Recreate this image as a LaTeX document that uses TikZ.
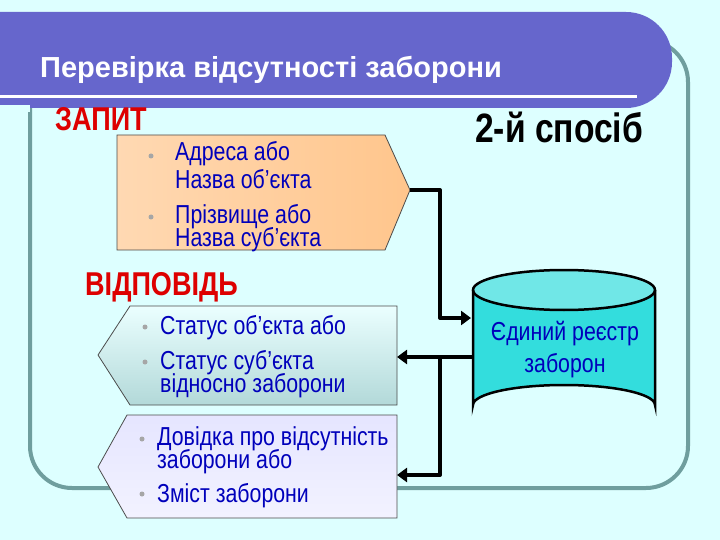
\documentclass[tikz,border=0pt]{standalone}
\usepackage{fontspec}
\setmainfont{Liberation Sans}
\newfontfamily\narrowf{Liberation Sans}[FakeStretch=0.82]
\usetikzlibrary{shapes.geometric,arrows.meta,positioning}
\definecolor{bg}{HTML}{DDFFFF}
\definecolor{frame}{HTML}{6F9E9E}
\definecolor{banner}{HTML}{6666CC}
\definecolor{txt}{HTML}{0000BB}
\definecolor{redt}{HTML}{DD0000}
\definecolor{cyl}{HTML}{33DDDD}
\begin{document}
\begin{tikzpicture}[x=1pt,y=-1pt,
  item/.style={anchor=base west,text=txt,font=\narrowf\fontsize{26}{26}\selectfont,inner sep=0},
  bul/.style={circle,fill=gray!70,inner sep=0,minimum size=5pt},
  conn/.style={line width=4pt,line join=round},
  arr/.style={conn,-{Triangle[length=10pt,width=14pt]}},
  head/.style={anchor=base west,text=redt,font=\narrowf\bfseries\fontsize{33}{33}\selectfont,inner sep=0}]
\useasboundingbox (0,0) rectangle (720,540);
\fill[bg] (0,0) rectangle (720,540);
% outer frame
\draw[frame,line width=4pt,rounded corners=42] (30,40) rectangle (688,488);
% banner
\fill[banner,rounded corners=46] (-60,12) rectangle (672,108);
\fill[bg] (-60,105) rectangle (30,112);
\draw[white,line width=3pt] (0,97) -- (637,97);
\node[anchor=base west,text=white,font=\bfseries\fontsize{29}{29}\selectfont,inner sep=0] (title) at (40,78) {Перевірка відсутності заборони};
% headings
\node[head] (zapyt) at (55,131) {ЗАПИТ};
\node[head] (vidp) at (85,295) {ВІДПОВІДЬ};
\node[anchor=base west,font=\narrowf\bfseries\fontsize{41}{41}\selectfont,inner sep=0] (way) at (475,143) {2-й спосіб};
% pentagon 1
\shade[left color=orange!30,right color=orange!45,draw=black!70,line width=0.8pt]
  (117,135) -- (385,135) -- (410,190) -- (385,250) -- (117,250) -- cycle;
\coordinate (p1) at (410,190);
\node[bul] (b1) at (151,156) {};
\node[item] (t1) at (175,161) {Адреса або};
\node[item] (t2) at (175,189) {Назва об’єкта};
\node[bul] (b2) at (151,217) {};
\node[item] (t3) at (175,223) {Прізвище або};
\node[item] (t4) at (175,246) {Назва суб’єкта};
% pentagon 2
\shade[top color=cyan!8,bottom color=teal!30,draw=black!70,line width=0.8pt]
  (130,306) -- (397,306) -- (397,405) -- (130,405) -- (98,355) -- cycle;
\coordinate (p2) at (397,357);
\node[bul] (b3) at (145,327) {};
\node[item] (t5) at (160,334) {Статус об’єкта або};
\node[bul] (b4) at (145,362) {};
\node[item] (t6) at (160,369) {Статус суб’єкта};
\node[item] (t7) at (160,392) {відносно заборони};
% pentagon 3
\shade[top color=blue!10,bottom color=blue!5,draw=black!70,line width=0.8pt]
  (127,415) -- (397,415) -- (397,518) -- (127,518) -- (98,467) -- cycle;
\coordinate (p3) at (397,475);
\node[bul] (b5) at (142,439) {};
\node[item] (t8) at (157,445) {Довідка про відсутність};
\node[item] (t9) at (157,468) {заборони або};
\node[bul] (b6) at (142,494) {};
\node[item] (t10) at (157,502) {Зміст заборони};
% cylinder
\fill[cyl] (473,290) -- (473,405) arc[start angle=180,end angle=360,x radius=91,y radius=20] -- (655,290) -- cycle;
\fill[cyl!70!white] (564,290) ellipse[x radius=91,y radius=20];
\draw[line width=2.5pt] (564,290) ellipse[x radius=91,y radius=20];
\draw[line width=2.5pt] (473,290) -- (473,405) arc[start angle=180,end angle=360,x radius=91,y radius=20] -- (655,290);
\node[text=txt,font=\narrowf\fontsize{26}{26}\selectfont,inner sep=0] (reg1) at (565,334) {Єдиний реєстр};
\node[text=txt,font=\narrowf\fontsize{26}{26}\selectfont,inner sep=0] (reg2) at (565,366) {заборон};
\coordinate (cin) at (471,318);
\coordinate (cout) at (473,357);
\coordinate (j1) at (440,190);
\coordinate (j2) at (440,318);
\coordinate (j3) at (440,357);
\coordinate (j4) at (440,475);
% connectors
\draw[arr] (p1) -- (j1) -- (j2) -- (cin);
\draw[arr] (cout) -- (p2);
\draw[arr] (j3) -- (j4) -- (p3);
\end{tikzpicture}
\end{document}
